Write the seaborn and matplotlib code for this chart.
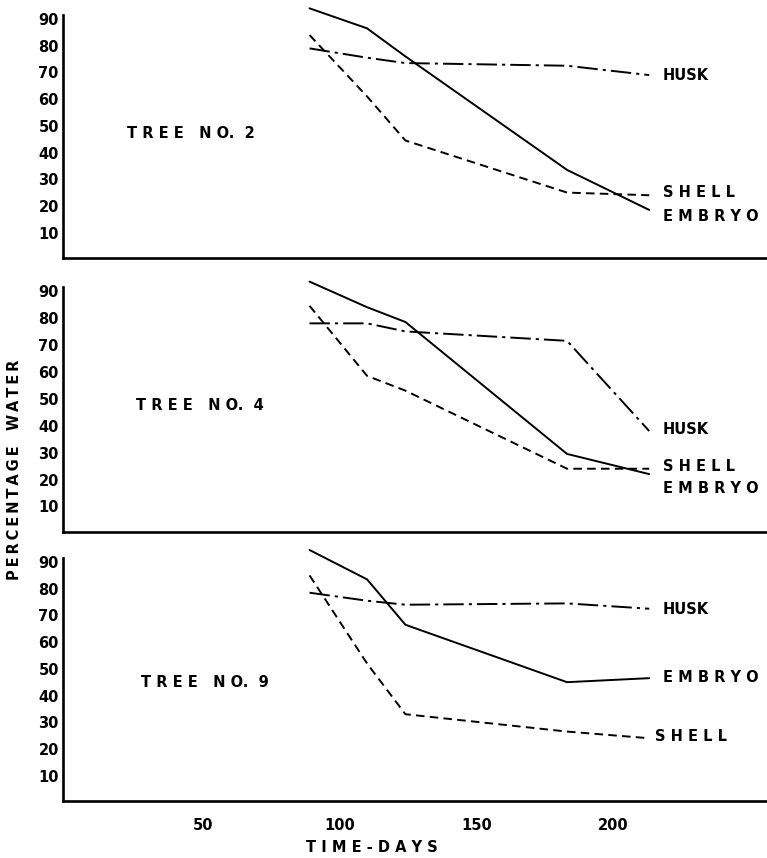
import matplotlib
matplotlib.use("Agg")
import matplotlib.pyplot as plt
import seaborn as sns
import pandas as pd

sns.set_theme(style="white")
plt.rcParams["font.family"] = ["DejaVu Sans"]
plt.rcParams["font.weight"] = "bold"
plt.rcParams["text.color"] = "black"
plt.rcParams["xtick.color"] = "black"
plt.rcParams["ytick.color"] = "black"

# Sampling dates (days) shared by all trees
days = [89, 110, 124, 183, 213]

# Percentage water per tree and nut component
tree2_embryo = [94, 86.5, 76, 33.5, 18.5]
tree2_shell = [84, 61, 44.5, 25, 24]
tree2_husk = [79, 75.5, 73.5, 72.5, 69]

tree4_embryo = [93.5, 84, 78.5, 29.5, 22]
tree4_shell = [84.5, 58.5, 53, 24, 24]
tree4_husk = [78, 78, 75, 71.5, 38]

tree9_embryo = [94.5, 83.5, 66.5, 45, 46.5]
tree9_shell = [85, 52, 33, 26.5, 24]
tree9_husk = [78.5, 75.5, 74, 74.5, 72.5]

trees = ["T R E E   N O.  2", "T R E E   N O.  4", "T R E E   N O.  9"]
components = ["EMBRYO", "SHELL", "HUSK"]
x_ticks = [50, 100, 150, 200]
y_ticks = [10, 20, 30, 40, 50, 60, 70, 80, 90]

series = {
    trees[0]: [tree2_embryo, tree2_shell, tree2_husk],
    trees[1]: [tree4_embryo, tree4_shell, tree4_husk],
    trees[2]: [tree9_embryo, tree9_shell, tree9_husk],
}

rows = []
for tree, vals in series.items():
    for comp, ys in zip(components, vals):
        for d, y in zip(days, ys):
            rows.append({"tree": tree, "component": comp, "day": d, "water": y})
df = pd.DataFrame(rows)

# Curve end labels (value) per panel
end_labels = {
    trees[0]: {"HUSK": 68.8, "S H E L L": 25.0, "E M B R Y O": 16.0},
    trees[1]: {"HUSK": 38.4, "S H E L L": 24.7, "E M B R Y O": 16.6},
    trees[2]: {"HUSK": 72.4, "E M B R Y O": 46.6, "S H E L L": 24.6},
}
title_pos = {trees[0]: (22.5, 47.2), trees[1]: (25.5, 47.6), trees[2]: (27.4, 44.8)}

lw = 1.4
dash_map = {
    "EMBRYO": "",
    "SHELL": (4.4, 2.7),
    "HUSK": (10.5, 2.6, 1.6, 2.6),
}

fig = plt.figure(figsize=(7.67, 8.58), dpi=100)
W, H = 767, 858
panel_px = [(15, 258), (287, 532), (558, 801)]
left_px = 63

for i, (tree, (top, bottom)) in enumerate(zip(trees, panel_px)):
    ax = fig.add_axes([left_px / W, 1 - bottom / H, (W - left_px) / W, (bottom - top) / H])
    sub = df[df["tree"] == tree]
    sns.lineplot(data=sub, x="day", y="water", style="component",
                 dashes=dash_map, color="black", linewidth=lw,
                 legend=False, ax=ax, estimator=None, sort=False, clip_on=False)
    ax.set_xlim(-1, 256)
    ax.set_ylim(0.5, 91.5)
    ax.set_xlabel("")
    ax.set_ylabel("")
    ax.set_yticks(y_ticks)
    ax.set_yticklabels([str(v) for v in y_ticks], fontsize=10.5, fontweight="bold")
    ax.set_xticks(x_ticks)
    if i == 2:
        ax.set_xticklabels([str(v) for v in x_ticks], fontsize=10.5, fontweight="bold")
    else:
        ax.set_xticklabels([])
    ax.tick_params(axis="both", length=0, colors="black")
    ax.tick_params(axis="y", pad=3)
    ax.tick_params(axis="x", pad=12)
    for side in ["top", "right"]:
        ax.spines[side].set_visible(False)
    for side in ["left", "bottom"]:
        ax.spines[side].set_linewidth(1.9)
        ax.spines[side].set_color("black")
    ax.grid(False)
    ax.set_facecolor("white")

    tx, ty = title_pos[tree]
    ax.text(tx, ty, tree, fontsize=10.5, fontweight="bold", va="center", ha="left")
    for label, yv in end_labels[tree].items():
        xpos = 215 if (label.startswith("S") and i == 2) else 218
        ax.text(xpos, yv, label, fontsize=10.5, fontweight="bold", va="center", ha="left")

ylabel = "\u2009".join("PERCENTAGE") + "   " + "\u2009".join("WATER")
fig.text(15 / W, 1 - 470 / H, ylabel, rotation=90,
         fontsize=10.5, fontweight="bold", ha="center", va="center")
fig.text(372 / W, 1 - 847 / H, "T I M E - D A Y S", fontsize=10.5,
         fontweight="bold", ha="center", va="center")

fig.savefig("out.png", dpi=100, facecolor="white")
